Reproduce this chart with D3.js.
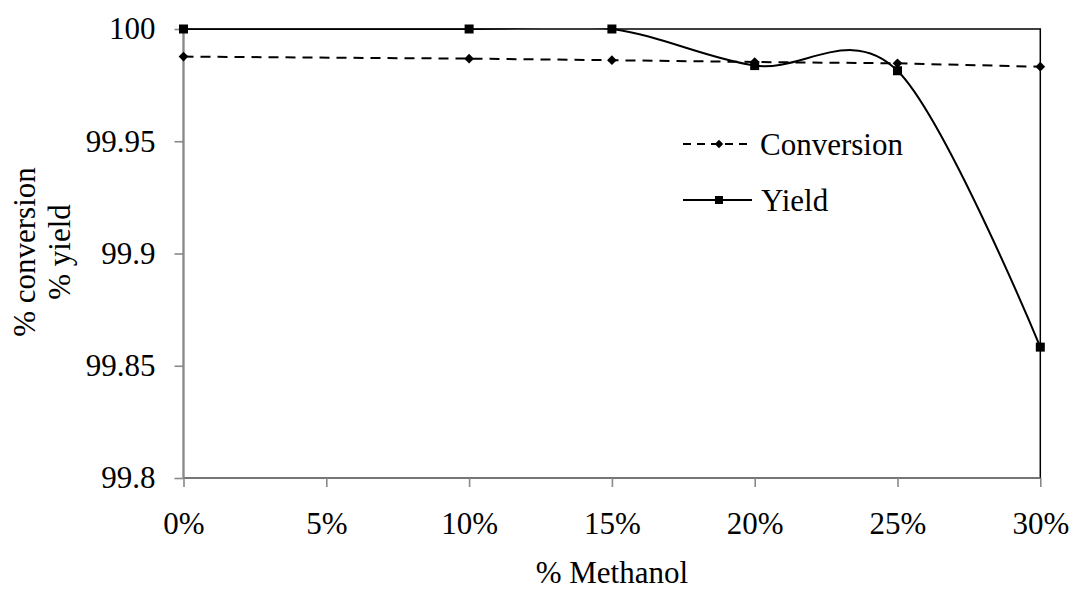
<!DOCTYPE html>
<html>
<head>
<meta charset="utf-8">
<script src="https://cdn.jsdelivr.net/npm/d3@7"></script>
<style>
  body { margin: 0; font-family: 'Liberation Serif'; }
  #chart text { font-family: 'Liberation Serif'; }
</style>
</head>
<body>
<svg id="chart" width="1070" height="591" style="position:absolute;left:0;top:0"></svg>
<script>
// ---- data ----
const methanol = [0, 0.10, 0.15, 0.20, 0.25, 0.30];
const conversion = [99.9877, 99.9868, 99.9861, 99.9853, 99.9847, 99.9832];
const yieldVals = [100, 100, 100, 99.9837, 99.9814, 99.8583];
const xTicks = [0, 0.05, 0.10, 0.15, 0.20, 0.25, 0.30];
const yTicks = [99.8, 99.85, 99.9, 99.95, 100];
const yTickLabels = ["99.8", "99.85", "99.9", "99.95", "100"];
const seriesNames = ["Conversion", "Yield"];
const xTitle = "% Methanol";
const yTitleLines = ["% conversion", "% yield"];

// ---- layout ----
const plotL = 183.5, plotR = 1040.3, plotT = 29, plotB = 478;
const FS = 31;
const FONT = "Liberation Serif";
const axisGray = "#898989";

function draw() {
  const svg = d3.select("#chart");
  svg.selectAll("*").remove();
  const x = d3.scaleLinear().domain([0, 0.30]).range([plotL, plotR]);
  const y = d3.scaleLinear().domain([99.8, 100]).range([plotB, plotT]);

  svg.append("defs").append("clipPath").attr("id", "plotclip")
    .append("rect").attr("x", plotL - 6).attr("y", plotT - 0.5)
    .attr("width", plotR - plotL + 12).attr("height", plotB - plotT + 6);

  // plot area border
  svg.append("rect")
    .attr("x", plotL).attr("y", plotT)
    .attr("width", plotR - plotL).attr("height", plotB - plotT)
    .attr("fill", "none").attr("stroke", "#000").attr("stroke-width", 1.5);

  // axes
  const xAxis = d3.axisBottom(x).tickValues(xTicks)
    .tickFormat(d3.format(".0%")).tickSize(9).tickPadding(25);
  const gx = svg.append("g").attr("transform", `translate(0,${plotB})`).call(xAxis);
  const yAxis = d3.axisLeft(y).tickValues(yTicks)
    .tickFormat((d, i) => yTickLabels[i]).tickSize(9).tickPadding(19);
  const gy = svg.append("g").attr("transform", `translate(${plotL},0)`).call(yAxis);
  [gx, gy].forEach(g => {
    g.attr("font-family", FONT).attr("font-size", FS);
    g.select(".domain").attr("stroke", axisGray).attr("stroke-width", 1.6);
    g.selectAll(".tick line").attr("stroke", axisGray).attr("stroke-width", 1.6);
    g.selectAll(".tick text").attr("fill", "#000")
      .attr("font-family", FONT).style("font-size", FS + "px");
  });
  gx.select(".domain").attr("d", `M${plotL},0H${plotR}`);
  gy.select(".domain").attr("d", `M0,${plotB}V${plotT}`);

  // titles
  svg.append("text").attr("x", (plotL + plotR) / 2).attr("y", 583)
    .attr("text-anchor", "middle")
    .attr("font-family", FONT).style("font-size", FS + "px").text(xTitle);
  const yt = svg.append("text").attr("transform", "translate(35,252) rotate(-90)")
    .attr("text-anchor", "middle")
    .attr("font-family", FONT).style("font-size", FS + "px");
  yt.append("tspan").attr("x", 0).attr("y", 0).text(yTitleLines[0]);
  yt.append("tspan").attr("x", 0).attr("y", 35).text(yTitleLines[1]);

  // series
  const convData = methanol.map((m, i) => [m, conversion[i]]);
  const yieldData = methanol.map((m, i) => [m, yieldVals[i]]);
  const series = svg.append("g").attr("clip-path", "url(#plotclip)");

  series.append("path").datum(convData)
    .attr("d", d3.line().x(d => x(d[0])).y(d => y(d[1])))
    .attr("fill", "none").attr("stroke", "#000").attr("stroke-width", 2)
    .attr("stroke-dasharray", "10,7");
  series.append("path").datum(yieldData)
    .attr("d", d3.line().x(d => x(d[0])).y(d => y(d[1])).curve(d3.curveCardinal.tension(0)))
    .attr("fill", "none").attr("stroke", "#000").attr("stroke-width", 2);

  const diamond = d3.symbol().type(d3.symbolDiamond2).size(60);
  svg.append("g").selectAll("path").data(convData).join("path")
    .attr("d", diamond)
    .attr("transform", d => `translate(${x(d[0])},${y(d[1])})`)
    .attr("fill", "#000");
  svg.append("g").selectAll("rect").data(yieldData).join("rect")
    .attr("x", d => x(d[0]) - 4.5).attr("y", d => y(d[1]) - 4.5)
    .attr("width", 9).attr("height", 9).attr("fill", "#000");

  // legend
  const lg = svg.append("g");
  const lx0 = 683, lx1 = 750, lmid = 719;
  lg.append("line").attr("x1", lx0).attr("x2", lx1).attr("y1", 144).attr("y2", 144)
    .attr("stroke", "#000").attr("stroke-width", 2).attr("stroke-dasharray", "8,6");
  lg.append("path").attr("d", d3.symbol().type(d3.symbolDiamond2).size(45))
    .attr("transform", `translate(${lmid},144)`).attr("fill", "#000");
  lg.append("text").attr("x", 760).attr("y", 155)
    .attr("font-family", FONT).style("font-size", FS + "px").text(seriesNames[0]);
  lg.append("line").attr("x1", lx0).attr("x2", lx1 + 2).attr("y1", 200).attr("y2", 200)
    .attr("stroke", "#000").attr("stroke-width", 2);
  lg.append("rect").attr("x", lmid - 4).attr("y", 196).attr("width", 8).attr("height", 8).attr("fill", "#000");
  lg.append("text").attr("x", 761).attr("y", 211)
    .attr("font-family", FONT).style("font-size", FS + "px").text(seriesNames[1]);
}

draw();
if (document.fonts && document.fonts.load) {
  document.fonts.load(FS + "px 'Liberation Serif'", "100%").then(draw, draw);
}
</script>
</body>
</html>
